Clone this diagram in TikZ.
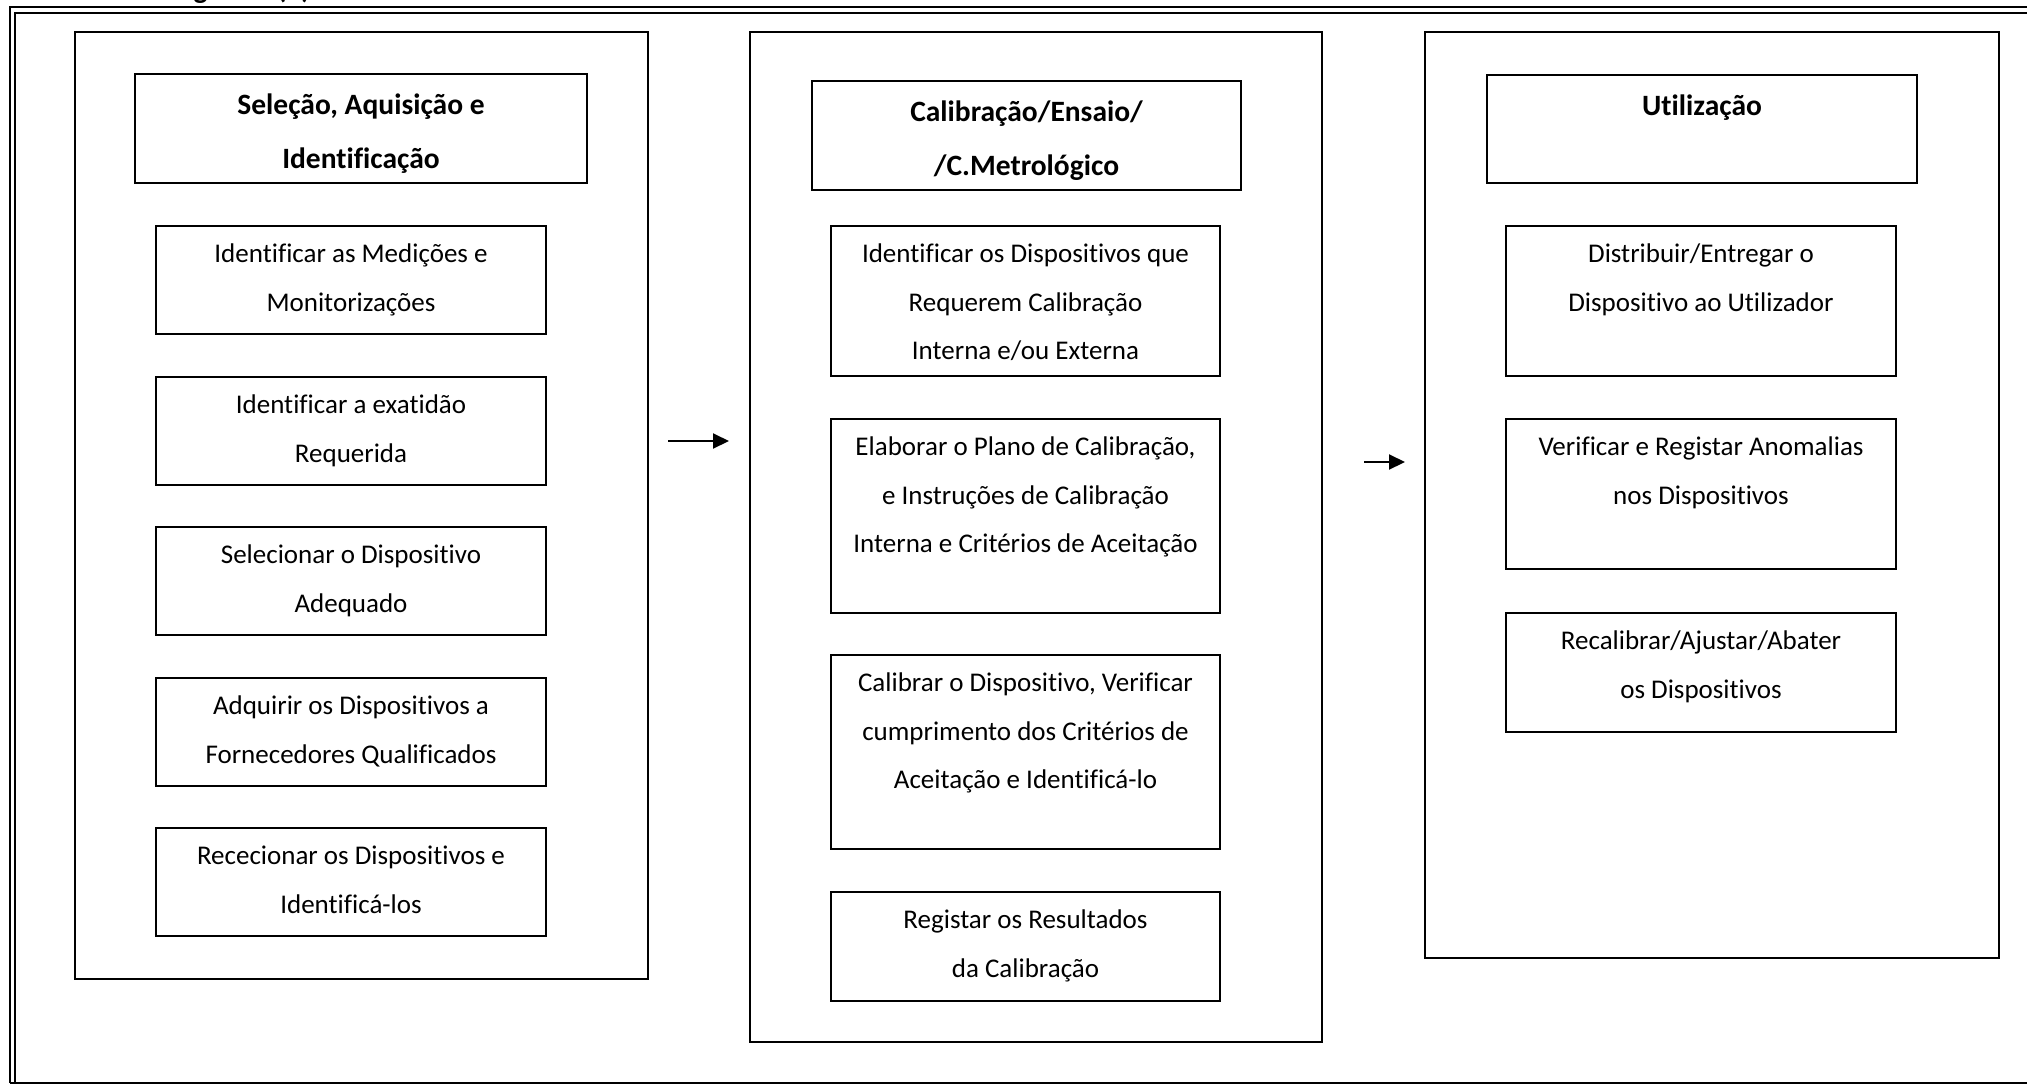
\documentclass[tikz,border=0pt]{standalone}
\usepackage{fontspec}
\setmainfont[Ligatures=NoCommon]{Carlito}
\usetikzlibrary{arrows.meta}

% place the text lines of a box, centred, one below the other
% #1 box name, #2 line style, #3 offset of first line, #4 line step, #5 lines
\newcommand\linesin[5]{%
  \foreach \t [count=\i, evaluate=\i as \yy using -(#3)-(#4)*(\i-1)] in {#5}{%
    \node[#2] (#1-l\i) at ([yshift=\yy pt]#1.north) {\t};}}

\tikzset{
  boxed/.style={draw, rectangle, inner sep=0pt, outer sep=0pt, anchor=north west, line width=2pt},
  stage/.style={boxed, line width=2.2pt},
  ln/.style={anchor=mid, inner sep=0pt, font=\fontsize{27}{32}\selectfont},
  hd/.style={anchor=mid, inner sep=0pt, font=\bfseries\fontsize{29.5}{35}\selectfont},
  flow/.style={-{Triangle[length=16pt,width=15pt]}, line width=2pt},
  rule/.style={line width=2pt}
}

\begin{document}
\begin{tikzpicture}[x=1pt, y=-1pt]
\useasboundingbox (0,0) rectangle (2027,1085);

% page frame (double rule at top and left)
\draw[rule] (10,1083) -- (10,7) -- (2040,7);
\draw[rule] (15,1083) -- (15,13) -- (2040,13);
\draw[rule] (10,1083) -- (2040,1083);
\node[anchor=base west, inner sep=0pt, font=\bfseries\fontsize{29.5}{35}\selectfont] (title) at (128,-1.5) {Fluxograma (1)};

% ---------- stage 1 ----------
\node[stage, minimum width=573, minimum height=947] (c1) at (75,32) {};
\node[boxed, minimum width=452, minimum height=109] (h1) at (135,74) {};
\linesin{h1}{hd}{38}{54}{{Seleção, Aquisição e}, Identificação}

\node[boxed, minimum width=390, minimum height=108] (s11) at (156,226) {};
\linesin{s11}{ln}{34.5}{49}{Identificar as Medições e, Monitorizações}
\node[boxed, minimum width=390, minimum height=108] (s12) at (156,376.5) {};
\linesin{s12}{ln}{34.5}{49}{Identificar a exatidão, Requerida}
\node[boxed, minimum width=390, minimum height=108] (s13) at (156,527) {};
\linesin{s13}{ln}{34.5}{49}{Selecionar o Dispositivo, Adequado}
\node[boxed, minimum width=390, minimum height=108] (s14) at (156,677.5) {};
\linesin{s14}{ln}{34.5}{49}{Adquirir os Dispositivos a, Fornecedores Qualificados}
\node[boxed, minimum width=390, minimum height=108] (s15) at (156,828) {};
\linesin{s15}{ln}{34.5}{49}{Rececionar os Dispositivos e, Identificá-los}

% ---------- stage 2 ----------
\node[stage, minimum width=572, minimum height=1010] (c2) at (750,32) {};
\node[boxed, minimum width=429, minimum height=109] (h2) at (812,81) {};
\linesin{h2}{hd}{38}{54}{Calibração/Ensaio/, /C.Metrológico}

\node[boxed, minimum width=389, minimum height=150] (s21) at (831,226) {};
\linesin{s21}{ln}{34.5}{48.5}{Identificar os Dispositivos que, Requerem Calibração, Interna e/ou Externa}
\node[boxed, minimum width=389, minimum height=194] (s22) at (831,419) {};
\linesin{s22}{ln}{34.5}{48.5}{{Elaborar o Plano de Calibração,}, e Instruções de Calibração, Interna e Critérios de Aceitação}
\node[boxed, minimum width=389, minimum height=194] (s23) at (831,655) {};
\linesin{s23}{ln}{34.5}{48.5}{{Calibrar o Dispositivo, Verificar}, cumprimento dos Critérios de, Aceitação e Identificá-lo}
\node[boxed, minimum width=389, minimum height=109] (s24) at (831,892) {};
\linesin{s24}{ln}{34.5}{48.5}{Registar os Resultados, da Calibração}

% ---------- stage 3 ----------
\node[stage, minimum width=574, minimum height=926] (c3) at (1425,32) {};
\node[boxed, minimum width=430, minimum height=108] (h3) at (1487,75) {};
\linesin{h3}{hd}{38}{54}{Utilização}

\node[boxed, minimum width=390, minimum height=150] (s31) at (1506,226) {};
\linesin{s31}{ln}{34.5}{48.5}{Distribuir/Entregar o, Dispositivo ao Utilizador}
\node[boxed, minimum width=390, minimum height=150] (s32) at (1506,419) {};
\linesin{s32}{ln}{34.5}{48.5}{Verificar e Registar Anomalias, nos Dispositivos}
\node[boxed, minimum width=390, minimum height=119] (s33) at (1506,613) {};
\linesin{s33}{ln}{34.5}{48.5}{Recalibrar/Ajustar/Abater, os Dispositivos}

% ---------- connectors between stages ----------
\coordinate (y1) at (0,441);
\coordinate (y2) at (0,462);
\draw[flow, shorten <=20pt, shorten >=21pt] (c1.east |- y1) -- (c2.west |- y1);
\draw[flow, shorten <=42pt, shorten >=20pt] (c2.east |- y2) -- (c3.west |- y2);
\end{tikzpicture}
\end{document}
